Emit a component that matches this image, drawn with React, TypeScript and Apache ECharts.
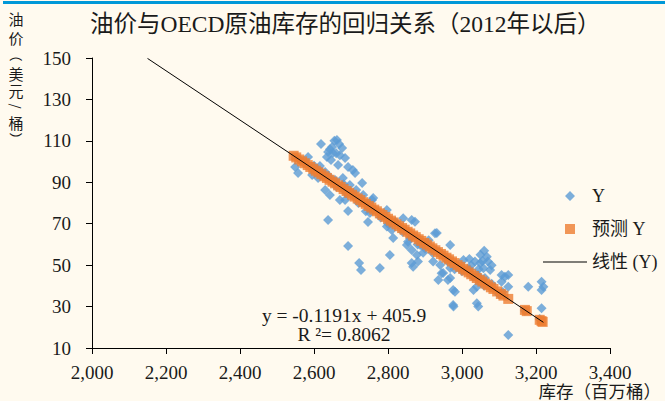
import React, { useEffect, useRef } from "react";
import * as echarts from "echarts";

const TITLE = "油价与OECD原油库存的回归关系（2012年以后）";
const X_NAME = "库存（百万桶）";
const Y_NAME_CHARS = ["油", "价", "（", "美", "元", "/", "桶", "）"];
const EQUATION = "y = -0.1191x + 405.9";
const R2 = "R ²= 0.8062";
const SERIES_NAMES = ["Y", "预测 Y", "线性 (Y)"];

const X_MIN = 2000;
const X_MAX = 3400;
const X_STEP = 200;
const Y_TICKS = [10, 30, 50, 70, 90, 110, 130, 150];

// observed (inventory, price)
const observedY: number[][] = [
  [2619, 108.5], [2662, 110.4], [2668, 108.5], [2676, 106.5], [2649, 107.0], [2638, 104.6],
  [2651, 104.1], [2635, 102.2], [2646, 100.8], [2684, 101.7], [2692, 97.4], [2705, 95.9],
  [2711, 94.5], [2584, 102.2], [2549, 97.4], [2557, 94.5], [2595, 93.5], [2611, 92.1],
  [2630, 86.3], [2643, 83.9], [2670, 81.4], [2730, 89.6], [2733, 83.9], [2757, 81.4],
  [2692, 76.1], [2638, 71.8], [2746, 70.8], [2665, 98.3], [2678, 92.1], [2697, 88.7],
  [2714, 86.3], [2616, 97.9], [2630, 95.0], [2657, 91.1], [2687, 84.8], [2562, 100.8],
  [2573, 99.3], [2655, 110.0], [2643, 106.0], [2670, 103.0], [2660, 104.0],
  [2692, 59.2], [2722, 51.0], [2727, 47.6],
  [2760, 82.4], [2810, 67.0], [2814, 63.1], [2864, 71.8], [2873, 71.0], [2932, 65.5],
  [2851, 59.7], [2864, 57.3], [2878, 54.9], [2864, 51.0], [2881, 51.7], [2778, 48.6],
  [2805, 54.9], [2887, 59.7], [2900, 59.7], [2941, 50.1], [2949, 46.2], [2968, 59.7],
  [2968, 48.6], [2968, 43.8], [2684, 81.4], [2746, 78.2], [2751, 75.2], [2797, 68.6],
  [2797, 76.6], [2841, 72.6], [2854, 61.3], [2868, 49.2], [2927, 65.4], [2922, 51.7],
  [2962, 42.8], [2976, 38.0], [2976, 30.8], [2910, 62.0], [2918, 58.0], [2895, 56.0],
  [2930, 57.0],
  [2945, 46.1], [2936, 42.8], [2981, 37.2], [2977, 30.0], [3004, 52.5], [3035, 51.7],
  [3049, 50.9], [3067, 54.1], [3070, 51.7], [3058, 48.5], [3076, 47.6], [3107, 45.2],
  [3125, 45.2], [3107, 42.0], [3125, 39.6], [3031, 38.0], [3040, 31.6], [3044, 30.0],
  [3179, 39.6], [3215, 42.0], [3220, 39.6], [3215, 38.0], [3215, 29.2], [3125, 16.3],
  [3030, 44.4], [3043, 45.2], [3062, 43.8], [3040, 39.6], [3116, 44.4], [3020, 53.0],
  [3025, 50.0], [3050, 55.0], [3055, 52.0], [3080, 50.0], [3060, 57.0], [3045, 48.0],
  [2600, 98.0], [2620, 95.0], [2640, 93.0], [2660, 88.0], [2680, 89.0], [2700, 85.0],
  [2720, 80.0], [2740, 76.0], [2760, 77.0], [2780, 73.0], [2800, 70.0], [2820, 71.0],
  [2840, 66.0], [2860, 63.0], [2880, 60.0], [2900, 58.0], [2920, 56.0], [2940, 56.0],
  [2960, 52.0], [2980, 48.0], [3000, 47.0], [3020, 48.0], [3040, 44.0], [3060, 40.0],
  [3080, 41.0], [3100, 36.0], [3110, 37.0], [3170, 28.0], [3210, 24.0],
];

// fitted values (inventory, predicted price)
const predictedY: number[][] = [
  [2545, 102.8], [2552, 102.0], [2560, 101.0], [2568, 100.1], [2575, 99.2], [2583, 98.3],
  [2590, 97.4], [2598, 96.5], [2605, 95.6], [2612, 94.8], [2620, 93.9], [2628, 92.9],
  [2635, 92.1], [2642, 91.2], [2650, 90.3], [2657, 89.5], [2665, 88.5], [2672, 87.7],
  [2680, 86.7], [2688, 85.8], [2695, 84.9], [2703, 84.0], [2710, 83.1], [2718, 82.2],
  [2725, 81.4], [2733, 80.4], [2740, 79.6], [2748, 78.6], [2755, 77.8], [2763, 76.8],
  [2770, 76.0], [2778, 75.0], [2785, 74.2], [2793, 73.3], [2800, 72.4], [2808, 71.5],
  [2815, 70.6], [2823, 69.7], [2830, 68.8], [2838, 67.9], [2845, 67.1], [2853, 66.1],
  [2860, 65.3], [2868, 64.3], [2875, 63.5], [2883, 62.5], [2890, 61.7], [2898, 60.7],
  [2905, 59.9], [2913, 59.0], [2920, 58.1], [2928, 57.2], [2935, 56.3], [2943, 55.4],
  [2950, 54.6], [2958, 53.6], [2965, 52.8], [2973, 51.8], [2980, 51.0], [2988, 50.0],
  [2995, 49.2], [3003, 48.2], [3010, 47.4], [3018, 46.5], [3025, 45.6], [3033, 44.7],
  [3040, 43.8], [3048, 42.9], [3055, 42.1], [3063, 41.1], [3070, 40.3], [3078, 39.3],
  [3085, 38.5], [3095, 37.3], [3105, 36.1], [3112, 35.3], [3125, 33.7], [3170, 28.4],
  [3175, 27.8], [3210, 23.6], [3215, 23.0], [3218, 22.6],
];

// linear trend endpoints
const trendLine: number[][] = [
  [2150, 149.8],
  [3220, 22.4],
];

const FONT = "'Liberation Serif', 'Times New Roman', 'Noto Sans CJK SC', serif";
const CJK_FONT = "'Noto Sans CJK SC', 'Liberation Serif', serif";
const BLUE = "#5B9BD5";
const ORANGE = "#ED7D31";
const TEXT = "#1a1a1a";

const fmtThousands = (v: number) =>
  String(v).replace(/\B(?=(\d{3})+(?!\d))/g, ",");

const DIAMOND_ICON =
  "path://M0,5L0.05,5L0,5.05Z M44,5L43.95,5L44,5.05Z M27,0L32,5L27,10L22,5Z";
const SQUARE_ICON =
  "path://M0,5L0.05,5L0,5.05Z M44,5L43.95,5L44,5.05Z M22,0H32V10H22Z";
const LINE_ICON = "path://M0,0H44V1H0Z";

export default function App() {
  const ref = useRef<HTMLDivElement>(null);

  useEffect(() => {
    if (!ref.current) return;
    const chart = echarts.init(ref.current, null, { renderer: "svg" });

    const yNameY = [18, 37, 55, 73, 90, 106, 122, 139];
    const yNameGraphics = Y_NAME_CHARS.map((ch, i) => {
      const rotated = ch === "（" || ch === "）" || ch === "/";
      return {
        type: "text",
        x: 16,
        y: yNameY[i],
        rotation: rotated ? -Math.PI / 2 : 0,
        style: {
          text: ch,
          fill: TEXT,
          fontSize: rotated ? 13 : 15,
          lineHeight: rotated ? 13 : 15,
          fontFamily: CJK_FONT,
          textAlign: "center",
          textVerticalAlign: "middle",
        },
      };
    });

    const option: any = {
      animation: false,
      backgroundColor: "#FFFAEF",
      textStyle: { fontFamily: FONT },
      title: {
        text: TITLE,
        left: 85,
        top: 7,
        textStyle: {
          fontSize: 23.5,
          fontWeight: "normal",
          color: TEXT,
          fontFamily: FONT,
        },
      },
      grid: { left: 92, right: 55, top: 58, bottom: 53 },
      legend: {
        orient: "vertical",
        left: 543,
        top: 187,
        padding: 0,
        itemWidth: 44,
        itemHeight: 10,
        itemGap: 15,
        textStyle: { fontSize: 18, color: TEXT, fontFamily: FONT, lineHeight: 16 },
        data: [
          { name: SERIES_NAMES[0], icon: DIAMOND_ICON },
          { name: SERIES_NAMES[1], icon: SQUARE_ICON },
          { name: SERIES_NAMES[2], icon: LINE_ICON },
        ],
      },
      xAxis: {
        type: "value",
        min: X_MIN,
        max: X_MAX,
        interval: X_STEP,
        axisLine: { show: true, onZero: false, lineStyle: { color: "#000", width: 1 } },
        axisTick: { show: true, inside: false, length: 6, lineStyle: { color: "#000" } },
        axisLabel: {
          margin: 16,
          fontSize: 19,
          lineHeight: 16,
          color: TEXT,
          fontFamily: FONT,
          formatter: (v: number) => fmtThousands(v),
        },
        splitLine: { show: false },
      },
      yAxis: {
        type: "value",
        min: Y_TICKS[0],
        max: Y_TICKS[Y_TICKS.length - 1],
        axisLine: { show: true, onZero: false, lineStyle: { color: "#000", width: 1 } },
        axisTick: {
          show: true,
          inside: false,
          length: 6,
          lineStyle: { color: "#000" },
          customValues: Y_TICKS,
        },
        axisLabel: {
          margin: 21,
          fontSize: 19,
          color: TEXT,
          fontFamily: FONT,
          customValues: Y_TICKS,
        },
        splitLine: { show: false },
      },
      series: [
        {
          name: SERIES_NAMES[0],
          type: "scatter",
          symbol: "diamond",
          symbolSize: 10,
          itemStyle: { color: BLUE },
          data: observedY,
          z: 2,
        },
        {
          name: SERIES_NAMES[1],
          type: "scatter",
          symbol: "rect",
          symbolSize: 10,
          itemStyle: { color: ORANGE },
          data: predictedY,
          z: 3,
        },
        {
          name: SERIES_NAMES[2],
          type: "line",
          showSymbol: false,
          symbol: "none",
          color: "#000",
          lineStyle: { color: "#000", width: 1 },
          data: trendLine,
          z: 4,
        },
      ],
      graphic: [
        {
          type: "rect",
          shape: { x: 3, y: 1, width: 662, height: 3 },
          style: { fill: "#0098D8" },
        },
        ...yNameGraphics,
        {
          type: "text",
          x: 661,
          y: 390,
          style: {
            text: X_NAME,
            fill: TEXT,
            fontSize: 17.5,
            lineHeight: 16,
            fontFamily: CJK_FONT,
            textAlign: "right",
            textVerticalAlign: "middle",
          },
        },
        {
          type: "text",
          x: 344,
          y: 315,
          style: {
            text: EQUATION,
            fill: TEXT,
            fontSize: 19.5,
            fontFamily: FONT,
            textAlign: "center",
            textVerticalAlign: "middle",
          },
        },
        {
          type: "text",
          x: 344,
          y: 334,
          style: {
            text: R2,
            fill: TEXT,
            fontSize: 19.5,
            fontFamily: FONT,
            textAlign: "center",
            textVerticalAlign: "middle",
          },
        },
      ],
    };

    chart.setOption(option);
    return () => chart.dispose();
  }, []);

  return (
    <div
      ref={ref}
      style={{ position: "absolute", left: 0, top: 0, width: 665, height: 401 }}
    />
  );
}
